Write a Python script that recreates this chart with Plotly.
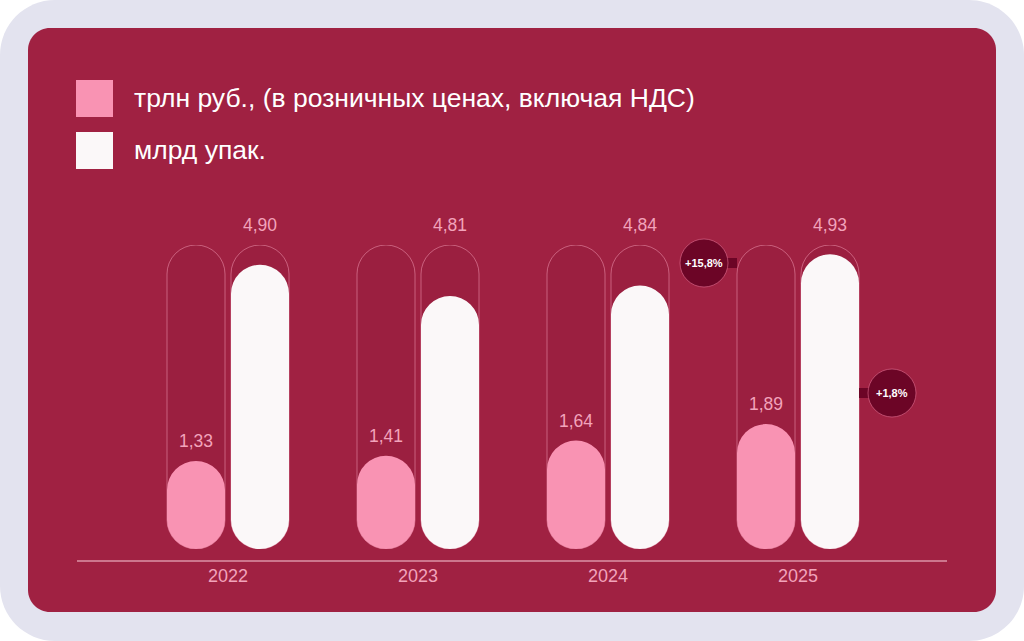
import plotly.graph_objects as go

# ---------------- data ----------------
years = ["2022", "2023", "2024", "2025"]
rub_trln = [1.33, 1.41, 1.64, 1.89]          # трлн руб.
packs_bln = [4.90, 4.81, 4.84, 4.93]         # млрд упак.
series_names = ["трлн руб., (в розничных ценах, включая НДС)", "млрд упак."]
growth_labels = ["+15,8%", "+1,8%"]

# ---------------- geometry / style ----------------
W, H = 1024, 641
PLOT_L, PLOT_R = 77, 947
BAR_BOTTOM, TRACK_TOP = 549, 245
PX_PER_CAT = 190
X0 = -(228 - PLOT_L) / PX_PER_CAT
X1 = 3 + (PLOT_R - 798) / PX_PER_CAT
BAR_W = 58 / PX_PER_CAT
PINK_C = -32 / PX_PER_CAT
WHITE_C = 32 / PX_PER_CAT
R = 29

PINK_MAX = 4.6
WHITE_BASE, WHITE_TOP = 4.08, 4.957

BG_OUT = "#e3e3ef"
BG_IN = "#a02142"
PINK = "#f993b3"
WHITE = "#fbf8f9"
LABEL = "#f2a3bb"
TRACK_FILL = "rgba(110,8,40,0.09)"
TRACK_LINE = "rgba(255,175,200,0.45)"
BADGE = "#6c0526"
FONT = "Liberation Sans, Arial"

xs = list(range(len(years)))
fig = go.Figure()


def pill(center, bases, tops, yaxis, color, line=None):
    mline = dict(width=1, color=line) if line else dict(width=0)
    fig.add_trace(go.Bar(
        x=xs, base=bases, y=[t - b for b, t in zip(bases, tops)],
        width=[BAR_W] * len(xs), offset=center - BAR_W / 2, yaxis=yaxis,
        hoverinfo="skip", showlegend=False,
        marker=dict(color=color, line=mline, cornerradius=R)))


# pink column (y)
pill(PINK_C, [0] * 4, [PINK_MAX] * 4, "y", TRACK_FILL, TRACK_LINE)
pill(PINK_C, [0] * 4, rub_trln, "y", PINK)
# white column (y2)
pill(WHITE_C, [WHITE_BASE] * 4, [WHITE_TOP] * 4, "y2", TRACK_FILL, TRACK_LINE)
pill(WHITE_C, [WHITE_BASE] * 4, packs_bln, "y2", WHITE)


def fmt(v):
    return f"{v:.2f}".replace(".", ",")


ann = []
for i, v in enumerate(rub_trln):
    ann.append(dict(x=i + PINK_C, y=v, xref="x", yref="y", text=fmt(v), showarrow=False,
                    yshift=20, font=dict(size=17.5, color=LABEL, family=FONT)))
for i, v in enumerate(packs_bln):
    ann.append(dict(x=i + WHITE_C, y=WHITE_TOP, xref="x", yref="y2", text=fmt(v), showarrow=False,
                    yshift=20, font=dict(size=17.5, color=LABEL, family=FONT)))


def px(x):
    return x / W


def py(y):
    return 1 - y / H


def rrect(x0, y0, x1, y1, r):
    k = 0.5523 * r
    pts = [
        f"M{px(x0 + r)},{py(y0)}",
        f"L{px(x1 - r)},{py(y0)}",
        f"C{px(x1 - r + k)},{py(y0)} {px(x1)},{py(y0 + r - k)} {px(x1)},{py(y0 + r)}",
        f"L{px(x1)},{py(y1 - r)}",
        f"C{px(x1)},{py(y1 - r + k)} {px(x1 - r + k)},{py(y1)} {px(x1 - r)},{py(y1)}",
        f"L{px(x0 + r)},{py(y1)}",
        f"C{px(x0 + r - k)},{py(y1)} {px(x0)},{py(y1 - r + k)} {px(x0)},{py(y1 - r)}",
        f"L{px(x0)},{py(y0 + r)}",
        f"C{px(x0)},{py(y0 + r - k)} {px(x0 + r - k)},{py(y0)} {px(x0 + r)},{py(y0)}",
        "Z",
    ]
    return " ".join(pts)


shapes = [
    dict(type="path", xref="paper", yref="paper", path=rrect(0, 0, W, H, 55),
         fillcolor=BG_OUT, line=dict(width=0), layer="below"),
    dict(type="path", xref="paper", yref="paper", path=rrect(28, 28, 996, 612, 22),
         fillcolor=BG_IN, line=dict(width=0), layer="below"),
    # baseline
    dict(type="line", xref="paper", yref="paper", x0=px(PLOT_L), x1=px(PLOT_R),
         y0=py(561), y1=py(561), line=dict(color="rgba(240,185,200,0.75)", width=1.5)),
]

# legend
legend_colors = [PINK, WHITE]
for k, (name, col) in enumerate(zip(series_names, legend_colors)):
    top = 80 + k * 52
    shapes.append(dict(type="rect", xref="paper", yref="paper", x0=px(76), x1=px(113),
                       y0=py(top), y1=py(top + 37), fillcolor=col, line=dict(width=0)))
    ann.append(dict(x=px(132), y=py(top + 18), xref="paper", yref="paper", text=name,
                    showarrow=False, xanchor="left", yanchor="middle",
                    font=dict(size=26.5, color="white", family=FONT)))

# growth badges
badges = [
    (growth_labels[0], 3 + PINK_C - BAR_W / 2, -1, 263),
    (growth_labels[1], 3 + WHITE_C + BAR_W / 2, 1, 393),
]
for text, ax, d, ypix in badges:
    shapes.append(dict(type="rect", xref="x", yref="paper", xsizemode="pixel", xanchor=ax,
                       x0=0, x1=d * 33, y0=py(ypix + 5), y1=py(ypix - 5),
                       fillcolor=BADGE, line=dict(width=0)))
    shapes.append(dict(type="circle", xref="x", yref="paper", xsizemode="pixel",
                       ysizemode="pixel", xanchor=ax, yanchor=py(ypix),
                       x0=d * 33 - 24, x1=d * 33 + 24, y0=-24, y1=24,
                       fillcolor=BADGE, line=dict(color="rgba(235,120,155,0.55)", width=1)))
    ann.append(dict(x=ax, y=py(ypix), xref="x", yref="paper", text=f"<b>{text}</b>",
                    showarrow=False, xshift=d * 33,
                    font=dict(size=11, color="white", family=FONT)))

ydom = [py(BAR_BOTTOM), py(TRACK_TOP)]
fig.update_layout(
    width=W, height=H, margin=dict(l=0, r=0, t=0, b=0),
    paper_bgcolor="white", plot_bgcolor="rgba(0,0,0,0)",
    barmode="overlay", showlegend=False,
    xaxis=dict(domain=[px(PLOT_L), px(PLOT_R)], range=[X0, X1], tickvals=xs, ticktext=years,
               showgrid=False, zeroline=False, showline=False, ticks="",
               ticklabelstandoff=14,
               tickfont=dict(size=18, color=LABEL, family=FONT),
               fixedrange=True),
    yaxis=dict(domain=ydom, range=[0, PINK_MAX], visible=False, fixedrange=True),
    yaxis2=dict(domain=ydom, range=[WHITE_BASE, WHITE_TOP], overlaying="y", visible=False,
                fixedrange=True),
    shapes=shapes, annotations=ann,
)

fig.write_html("out.html", config={"displayModeBar": False})
